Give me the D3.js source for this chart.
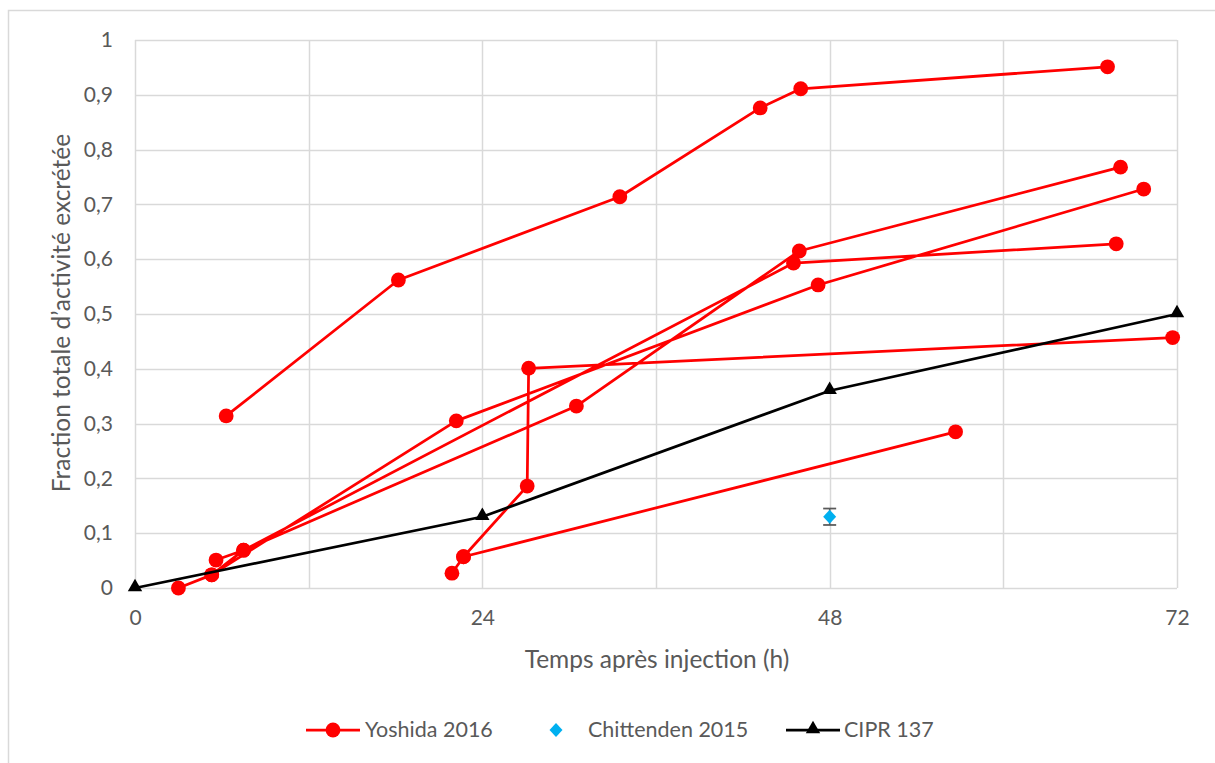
<!DOCTYPE html>
<html><head><meta charset="utf-8">
<script src="https://cdn.jsdelivr.net/npm/d3@7"></script>
<style>
html,body{margin:0;padding:0;background:#fff;}
svg{display:block;}
text{font-family:Lato,"Open Sans",sans-serif;fill:#595959;}
</style></head>
<body><svg id="c" width="1215" height="763"></svg>
<script>
// ---- data ----
const xTicks = [0, 24, 48, 72];
const xGrid = [0, 12, 24, 36, 48, 60, 72];
const yTicks = [0, 0.1, 0.2, 0.3, 0.4, 0.5, 0.6, 0.7, 0.8, 0.9, 1];
const yTickLabels = ["0", "0,1", "0,2", "0,3", "0,4", "0,5", "0,6", "0,7", "0,8", "0,9", "1"];
// Yoshida 2016: one series, subjects separated by blank (null) cells
const yoshidaHours = [6.3, 18.2, 33.5, 43.2, 46.0, 67.2, null,
  3.0, 5.3, 22.2, 47.2, 69.7, null,
  5.6, 7.5, 45.5, 67.8, null,
  5.3, 7.5, 30.5, 45.9, 68.1, null,
  21.9, 22.7, 27.1, 27.2, 71.7, null,
  22.7, 56.7];
const yoshidaValues = [0.314, 0.562, 0.714, 0.876, 0.911, 0.951, null,
  0.0, 0.024, 0.305, 0.553, 0.728, null,
  0.051, 0.069, 0.593, 0.628, null,
  0.024, 0.069, 0.332, 0.615, 0.768, null,
  0.027, 0.057, 0.186, 0.401, 0.457, null,
  0.057, 0.285];
const chittendenHours = [48];
const chittendenValues = [0.13];
const chittendenErr = [0.015];
const ciprHours = [0, 24, 48, 72];
const ciprValues = [0, 0.13, 0.36, 0.50];
const seriesNames = ["Yoshida 2016", "Chittenden 2015", "CIPR 137"];
const xTitle = "Temps après injection (h)";
const yTitle = "Fraction totale d’activité excrétée";

// ---- layout ----
const svg = d3.select("#c");
const L = 135, R = 1177, T = 40, B = 588;
const x = d3.scaleLinear().domain([0, 72]).range([L, R]);
const y = d3.scaleLinear().domain([0, 1]).range([B, T]);

// outer chart border (cropped)
svg.append("rect").attr("x", 8.5).attr("y", 10.5).attr("width", 1300).attr("height", 900)
  .attr("fill", "none").attr("stroke", "#D9D9D9").attr("stroke-width", 1.5);

// gridlines
svg.append("g").selectAll("line").data(yTicks).join("line")
  .attr("x1", L).attr("x2", R).attr("y1", d => Math.round(y(d)) + 0.5).attr("y2", d => Math.round(y(d)) + 0.5)
  .attr("stroke", "#D9D9D9").attr("stroke-width", 1.5);
svg.append("g").selectAll("line").data(xGrid).join("line")
  .attr("y1", T).attr("y2", B).attr("x1", d => Math.round(x(d)) + 0.5).attr("x2", d => Math.round(x(d)) + 0.5)
  .attr("stroke", "#D9D9D9").attr("stroke-width", 1.5);

// axes (labels only, via d3 axes)
const yAxis = d3.axisLeft(y).tickValues(yTicks).tickFormat((d, i) => yTickLabels[i]).tickSize(0).tickPadding(22);
const gy = svg.append("g").attr("transform", `translate(${L},0)`).call(yAxis);
gy.select(".domain").remove();
gy.selectAll("text").attr("font-size", 21).attr("fill", "#595959").style("font-family", "Lato");

const xAxis = d3.axisBottom(x).tickValues(xTicks).tickFormat(d3.format("d")).tickSize(0).tickPadding(22);
const gx = svg.append("g").attr("transform", `translate(0,${B})`).call(xAxis);
gx.select(".domain").remove();
gx.selectAll("text").attr("font-size", 21).attr("fill", "#595959").style("font-family", "Lato");

// axis titles
svg.append("text").attr("x", 657).attr("y", 668).attr("text-anchor", "middle")
  .attr("font-size", 24.5).text(xTitle);
svg.append("text").attr("transform", `translate(70,${313}) rotate(-90)`).attr("text-anchor", "middle")
  .attr("font-size", 24.5).text(yTitle);

// ---- Yoshida ----
const red = "#FF0000";
const yData = yoshidaHours.map((h, i) => ({h, v: yoshidaValues[i]}));
const line = d3.line().defined(d => d.h !== null && d.v !== null).x(d => x(d.h)).y(d => y(d.v));
svg.append("path").datum(yData).attr("d", line).attr("fill", "none")
  .attr("stroke", red).attr("stroke-width", 2.75).attr("stroke-linejoin", "round");
svg.append("g").selectAll("circle").data(yData.filter(d => d.h !== null)).join("circle")
  .attr("cx", d => x(d.h)).attr("cy", d => y(d.v)).attr("r", 7.4).attr("fill", red);

// ---- CIPR 137 ----
const cData = ciprHours.map((h, i) => ({h, v: ciprValues[i]}));
svg.append("path").datum(cData).attr("d", line).attr("fill", "none")
  .attr("stroke", "#000").attr("stroke-width", 2.75);
const tri = d3.symbol().type(d3.symbolTriangle).size(90);
svg.append("g").selectAll("path").data(cData).join("path")
  .attr("d", tri).attr("transform", d => `translate(${x(d.h)},${y(d.v) - 1})`).attr("fill", "#000");

// ---- Chittenden ----
const chData = chittendenHours.map((h, i) => ({h, v: chittendenValues[i], e: chittendenErr[i]}));
const eb = svg.append("g");
chData.forEach(d => {
  const cx = x(d.h);
  eb.append("line").attr("x1", cx).attr("x2", cx).attr("y1", y(d.v - d.e)).attr("y2", y(d.v + d.e))
    .attr("stroke", "#595959").attr("stroke-width", 1.5);
  [d.v - d.e, d.v + d.e].forEach(v => eb.append("line").attr("x1", cx - 6.5).attr("x2", cx + 6.5)
    .attr("y1", y(v)).attr("y2", y(v)).attr("stroke", "#595959").attr("stroke-width", 1.75));
});
const diamond = "M0,-7L6.5,0L0,7L-6.5,0Z";
svg.append("g").selectAll("path").data(chData).join("path")
  .attr("d", diamond).attr("transform", d => `translate(${x(d.h)},${y(d.v)})`).attr("fill", "#00B0F0");

// ---- legend ----
const ly = 730;
const lg = svg.append("g");
// Yoshida
lg.append("line").attr("x1", 306).attr("x2", 360).attr("y1", ly).attr("y2", ly).attr("stroke", red).attr("stroke-width", 2.75);
lg.append("circle").attr("cx", 333).attr("cy", ly).attr("r", 7.4).attr("fill", red);
lg.append("text").attr("x", 365).attr("y", ly + 7).attr("font-size", 21.5).text(seriesNames[0]);
// Chittenden
lg.append("path").attr("d", diamond).attr("transform", `translate(556,${ly})`).attr("fill", "#00B0F0");
lg.append("text").attr("x", 588).attr("y", ly + 7).attr("font-size", 21.5).text(seriesNames[1]);
// CIPR
lg.append("line").attr("x1", 786).attr("x2", 840).attr("y1", ly).attr("y2", ly).attr("stroke", "#000").attr("stroke-width", 2.75);
lg.append("path").attr("d", tri).attr("transform", `translate(813,${ly - 1})`).attr("fill", "#000");
lg.append("text").attr("x", 844).attr("y", ly + 7).attr("font-size", 21.5).text(seriesNames[2]);
</script></body></html>
